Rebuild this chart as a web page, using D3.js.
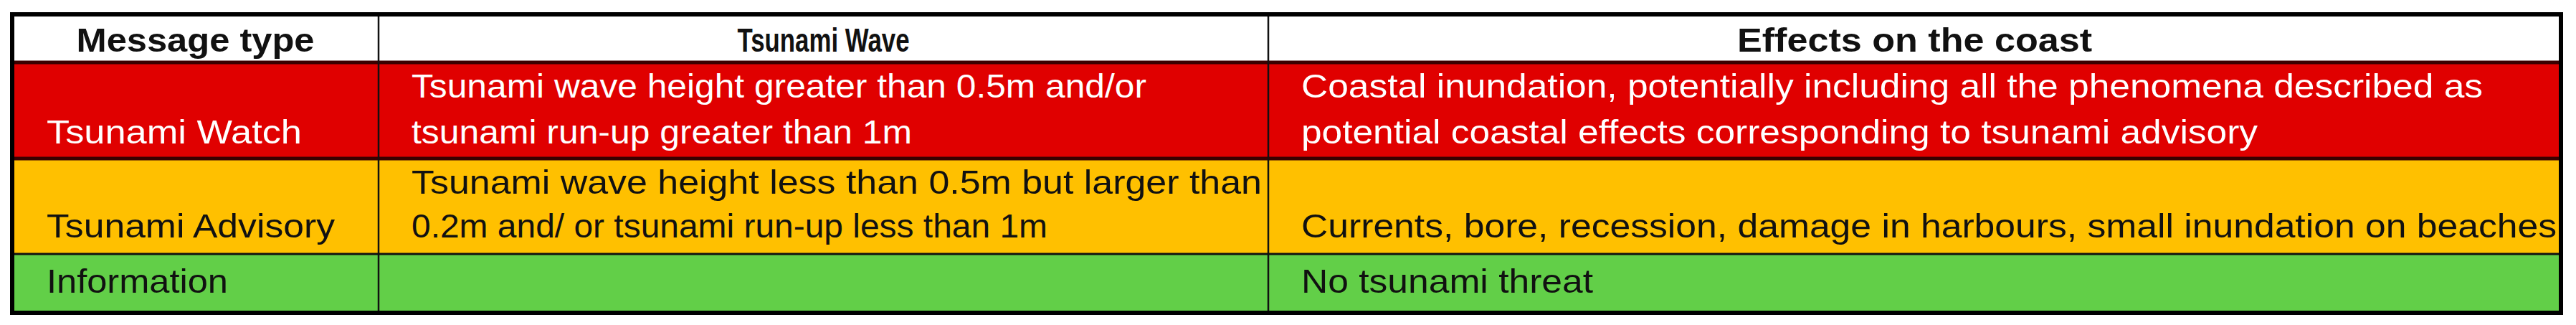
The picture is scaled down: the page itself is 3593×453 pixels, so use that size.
<!DOCTYPE html>
<html>
<head>
<meta charset="utf-8">
<script src="https://cdn.jsdelivr.net/npm/d3@7"></script>
<style>
  body { margin: 0; background: #fff; }
  text { font-family: "Liberation Sans", Arial, sans-serif; }
</style>
</head>
<body>
<div id="table"></div>
<script>
"use strict";

// table content
var headers = ["Message type", "Tsunami Wave", "Effects on the coast"];
var messageTypes = ["Tsunami Watch", "Tsunami Advisory", "Information"];
var waveLines = [
    ["Tsunami wave height greater than 0.5m and/or", "tsunami run-up greater than 1m"],
    ["Tsunami wave height less than 0.5m but larger than", "0.2m and/ or tsunami run-up less than 1m"],
    []
];
var effectLines = [
    ["Coastal inundation, potentially including all the phenomena described as", "potential coastal effects corresponding to tsunami advisory"],
    ["", "Currents, bore, recession, damage in harbours, small inundation on beaches"],
    ["No tsunami threat"]
];
var rowColours = ["#e00000", "#ffc000", "#62cf48"];
var textColours = ["#ffffff", "#111111", "#111111"];

var W = 3593, H = 453;
var colEdges = [17, 528, 1769, 3572];
var rowEdges = [20, 87, 221, 354, 436];

var svg = d3.select("#table").append("svg")
    .attr("width", W).attr("height", H);

// measure text so it can be squeezed to the reference widths
function fitText(sel, w) {
    sel.attr("textLength", w).attr("lengthAdjust", "spacingAndGlyphs");
}

// header
svg.append("rect")
    .attr("x", colEdges[0]).attr("y", rowEdges[0])
    .attr("width", colEdges[3] - colEdges[0]).attr("height", rowEdges[1] - rowEdges[0])
    .attr("fill", "#fff");

var headerWidths = [332, 240, 495];
headers.forEach(function(h, i) {
    var cx = (colEdges[i] + colEdges[i + 1]) / 2;
    svg.append("text")
        .attr("x", cx - headerWidths[i] / 2).attr("y", 72)
        .attr("font-size", 46).attr("font-weight", "bold").attr("fill", "#111")
        .text(h)
        .call(fitText, headerWidths[i]);
});

// body rows
var rows = d3.range(messageTypes.length);
svg.selectAll("rect.row")
    .data(rows)
    .enter()
    .append("rect")
    .attr("class", "row")
    .attr("x", colEdges[0])
    .attr("y", function(d) { return rowEdges[d + 1]; })
    .attr("width", colEdges[3] - colEdges[0])
    .attr("height", function(d) { return rowEdges[d + 2] - rowEdges[d + 1]; })
    .attr("fill", function(d) { return rowColours[d]; });

var lineBase = [[136, 200], [270, 331], [408]];
var typeWidths = [356, 402, 253];
var waveWidths = [[1025, 698], [1186, 887], []];
var effectWidths = [[1648, 1334], [0, 1751], [407]];
var pad = 48;

rows.forEach(function(r) {
    var last = lineBase[r][lineBase[r].length - 1];
    svg.append("text")
        .attr("x", colEdges[0] + pad).attr("y", last)
        .attr("font-size", 46).attr("fill", textColours[r])
        .text(messageTypes[r])
        .call(fitText, typeWidths[r]);

    waveLines[r].forEach(function(t, j) {
        svg.append("text")
            .attr("x", colEdges[1] + 46).attr("y", lineBase[r][j])
            .attr("font-size", 46).attr("fill", textColours[r])
            .text(t)
            .call(fitText, waveWidths[r][j]);
    });

    effectLines[r].forEach(function(t, j) {
        if (!t) return;
        svg.append("text")
            .attr("x", colEdges[2] + 46).attr("y", lineBase[r][j])
            .attr("font-size", 46).attr("fill", textColours[r])
            .text(t)
            .call(fitText, effectWidths[r][j]);
    });
});

// grid lines
rowEdges.slice(1, -1).forEach(function(y, i) {
    svg.append("line")
        .attr("x1", colEdges[0]).attr("x2", colEdges[3])
        .attr("y1", y).attr("y2", y)
        .attr("stroke", i == 0 || i == 1 ? "#3a0000" : "#111")
        .attr("stroke-width", i == 0 || i == 1 ? 5 : 3);
});
colEdges.slice(1, -1).forEach(function(x) {
    svg.append("line")
        .attr("x1", x).attr("x2", x)
        .attr("y1", rowEdges[0]).attr("y2", rowEdges[4])
        .attr("stroke", "#111").attr("stroke-width", 2.5);
});

svg.append("rect")
    .attr("x", colEdges[0]).attr("y", rowEdges[0])
    .attr("width", colEdges[3] - colEdges[0]).attr("height", rowEdges[4] - rowEdges[0])
    .attr("fill", "none").attr("stroke", "#000").attr("stroke-width", 6);
</script>
</body>
</html>
